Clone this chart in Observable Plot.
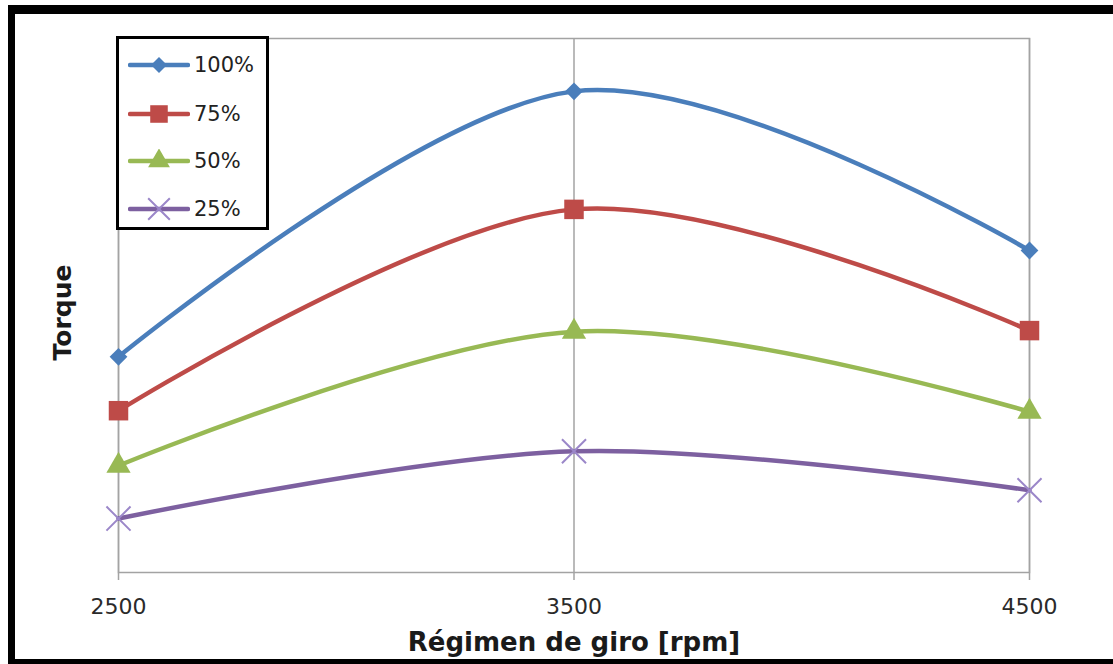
<!DOCTYPE html>
<html>
<head>
<meta charset="utf-8">
<script src="https://cdn.jsdelivr.net/npm/d3@7"></script>
<script src="https://cdn.jsdelivr.net/npm/@observablehq/plot@0.6"></script>
<style>
  html, body { margin: 0; padding: 0; background: #fff; }
  #wrap { position: relative; width: 1113px; height: 664px; overflow: hidden; font-family: "DejaVu Sans", sans-serif; }
  #border { position: absolute; left: 8px; top: 5px; width: 1101px; height: 645px;
            border-top: 9px solid #000; border-left: 7px solid #000; border-bottom: 5px solid #000; border-right: 2px solid #666; box-sizing: content-box; }
  #chart { position: absolute; left: 0; top: 0; }
  #legend { position: absolute; left: 116px; top: 36px; width: 147px; height: 188px;
            border: 3px solid #000; background: #fff; }
  .row { position: absolute; left: 9px; height: 24px; display: flex; align-items: center; }
  .row span { font-size: 21px; color: #222; margin-left: 4px; }
</style>
</head>
<body>
<div id="wrap">
  <div id="border"></div>
  <div id="chart"></div>
  <div id="legend"></div>
</div>
<script>
// Engine speed (rpm) on x, relative torque per throttle load
const rpm = [2500, 3500, 4500];
const series = ["100%", "75%", "50%", "25%"];
const torque100 = [40.4, 90.1, 60.3];
const torque75 = [30.3, 68.0, 45.3];
const torque50 = [20.0, 45.1, 30.1];
const torque25 = [10.1, 22.7, 15.4];
const colors = ["#4a7ebb", "#be4b48", "#98b954", "#7d60a0"];
const markerColors = ["#4a7ebb", "#be4b48", "#98b954", "#9b87c9"];
const symbols = ["diamond2", "square", "triangle", "times"];
const xLabel = "Régimen de giro [rpm]";
const yLabel = "Torque";

const values = [torque100, torque75, torque50, torque25];
const rows = series.flatMap((s, i) => rpm.map((r, j) => ({series: s, rpm: r, torque: values[i][j]})));

const markerR = {"diamond2": 8, "square": 11, "triangle": 9, "times": 11};

const dots = series.map((s, i) => Plot.dot(rows.filter(d => d.series === s), {
  x: "rpm", y: "torque", symbol: () => symbols[i], r: markerR[symbols[i]],
  fill: symbols[i] === "times" ? "none" : markerColors[i],
  stroke: symbols[i] === "times" ? markerColors[i] : "none",
  strokeWidth: 2
}));

const chart = Plot.plot({
  width: 1113, height: 664,
  marginLeft: 118, marginRight: 84, marginTop: 38, marginBottom: 92,
  style: {fontFamily: "DejaVu Sans, sans-serif", background: "transparent"},
  x: {domain: [2500, 4500], axis: null},
  y: {domain: [0, 100], axis: null},
  color: {domain: series, range: colors},
  symbol: {domain: symbols, range: symbols},
  marks: [
    Plot.frame({stroke: "#a3a3a3", strokeWidth: 1.5}),
    Plot.ruleX(rpm, {stroke: "#a3a3a3", strokeWidth: 1.5}),
    Plot.axisX(rpm, {tickSize: 8, tickPadding: 18, label: null, fontSize: 22,
      tickFormat: d => String(d), stroke: "#a3a3a3", strokeWidth: 1.5, fill: "#2a2a2a"}),
    Plot.text([xLabel], {frameAnchor: "bottom", dy: 70, lineAnchor: "middle", textAnchor: "middle",
      fontSize: 26, fontWeight: "bold", fill: "#1a1a1a"}),
    Plot.text([yLabel], {frameAnchor: "left", dx: -56, dy: 7, rotate: -90, lineAnchor: "middle", textAnchor: "middle",
      fontSize: 25, fontWeight: "bold", fill: "#1a1a1a"}),
    Plot.line(rows, {x: "rpm", y: "torque", z: "series", stroke: "series", curve: "cardinal", strokeWidth: 4.5}),
    ...dots
  ]
});
document.getElementById("chart").appendChild(chart);

// Legend box with a line sample and marker per series
const legend = d3.select("#legend");
const rowTops = [14, 63, 110, 158];
series.forEach((s, i) => {
  const row = legend.append("div").attr("class", "row").style("top", rowTops[i] + "px");
  const svg = row.append("svg").attr("width", 62).attr("height", 24);
  svg.append("line").attr("x1", 2).attr("x2", 60).attr("y1", 12).attr("y2", 12)
    .attr("stroke", colors[i]).attr("stroke-width", 4.5).attr("stroke-linecap", "round");
  const sym = {"diamond2": d3.symbolDiamond2, "square": d3.symbolSquare, "triangle": d3.symbolTriangle, "times": d3.symbolTimes}[symbols[i]];
  const r = markerR[symbols[i]] * 0.9;
  svg.append("path").attr("transform", "translate(31,12)")
    .attr("d", d3.symbol(sym, r * r * Math.PI)())
    .attr("fill", symbols[i] === "times" ? "none" : markerColors[i])
    .attr("stroke", symbols[i] === "times" ? markerColors[i] : "none")
    .attr("stroke-width", 2);
  row.append("span").text(s);
});
</script>
</body>
</html>
